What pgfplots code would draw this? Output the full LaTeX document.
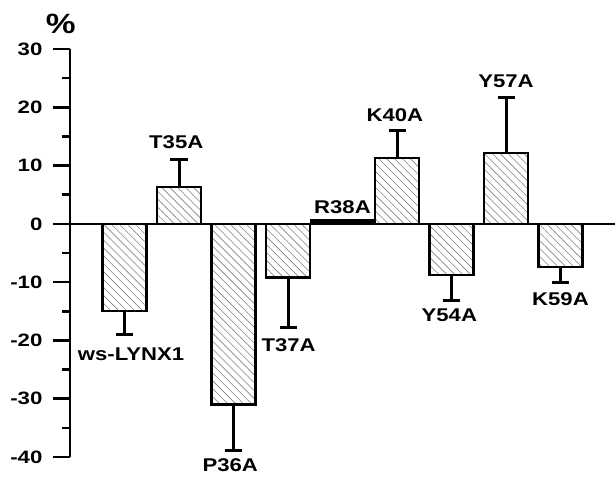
\documentclass[border=0pt]{standalone}
\usepackage{fontspec}
\setmainfont{Liberation Sans}
\newfontfamily\wideb[FakeStretch=1.2]{Liberation Sans Bold}
\newfontfamily\widet[FakeStretch=1.24]{Liberation Sans Bold}
\usepackage{pgfplots}
\pgfplotsset{compat=1.18}
\usetikzlibrary{patterns.meta}
\begin{document}
\begin{tikzpicture}
\begin{axis}[name=ax, scale only axis, width=545bp, height=408bp,
 xmin=-1, xmax=9, ymin=-40, ymax=30,
 axis x line=middle, axis y line=left, axis line style={-, line width=2.5bp},
 xtick=\empty, ytick={-40,-30,...,30}, minor y tick num=1,
 tick align=outside, major tick length=17bp, minor tick length=8bp,
 every tick/.style={black, line width=2.5bp},
 yticklabel style={font=\fontsize{18}{22}\selectfont\widet, xshift=-7bp},
 /pgf/number format/assume math mode=true,
 clip=false,
 ]
\addplot[ybar, bar width=0.807, bar shift=0pt, draw=black, line width=2.3bp,
  pattern={Lines[angle=-45,distance=5.6bp,line width=0.6bp]}, pattern color=gray]
  coordinates {(0,-14.9) (1,6.3) (2,-31.0) (3,-9.2) (5,11.3) (6,-8.75) (7,12.2) (8,-7.4)};
\addplot[ybar, bar width=1.14, bar shift=0pt, draw=black, fill=black, line width=2.3bp]
  coordinates {(4,0.6)};
\addplot[draw=none, mark=none, forget plot, error bars/.cd, y dir=minus, y explicit,
  error bar style={draw=black, line width=3bp},
  error mark options={rotate=90, draw=black, line width=3bp, mark size=8.5bp}]
  coordinates {(0,-14.9) +- (0,4.0) (2,-31.0) +- (0,7.8) (3,-9.2) +- (0,8.6) (6,-8.75) +- (0,4.45) (8,-7.4) +- (0,2.7)};
\addplot[draw=none, mark=none, forget plot, error bars/.cd, y dir=plus, y explicit,
  error bar style={draw=black, line width=3bp},
  error mark options={rotate=90, draw=black, line width=3bp, mark size=8.5bp}]
  coordinates {(1,6.3) +- (0,4.7) (5,11.3) +- (0,4.7) (7,12.2) +- (0,9.5)};
\begin{scope}[every node/.style={font=\fontsize{18.5}{22}\selectfont\wideb, inner sep=0pt}]
\node at (axis cs:0.12,-22.3) {ws-LYNX1};
\node at (axis cs:0.95,14.0) {T35A};
\node at (axis cs:1.94,-41.4) {P36A};
\node at (axis cs:3.01,-20.8) {T37A};
\node at (axis cs:4.0,2.9) {R38A};
\node at (axis cs:4.96,18.6) {K40A};
\node at (axis cs:5.96,-15.6) {Y54A};
\node at (axis cs:7,24.4) {Y57A};
\node at (axis cs:8,-13.0) {K59A};
\node[font=\fontsize{28}{30}\selectfont\wideb] at (axis cs:-1.17,34.3) {\%};
\end{scope}
\end{axis}
\pgfresetboundingbox
\path[use as bounding box] ([xshift=-70bp,yshift=-20bp]ax.south west) rectangle ([yshift=49bp]ax.north east);
\end{tikzpicture}
\end{document}
